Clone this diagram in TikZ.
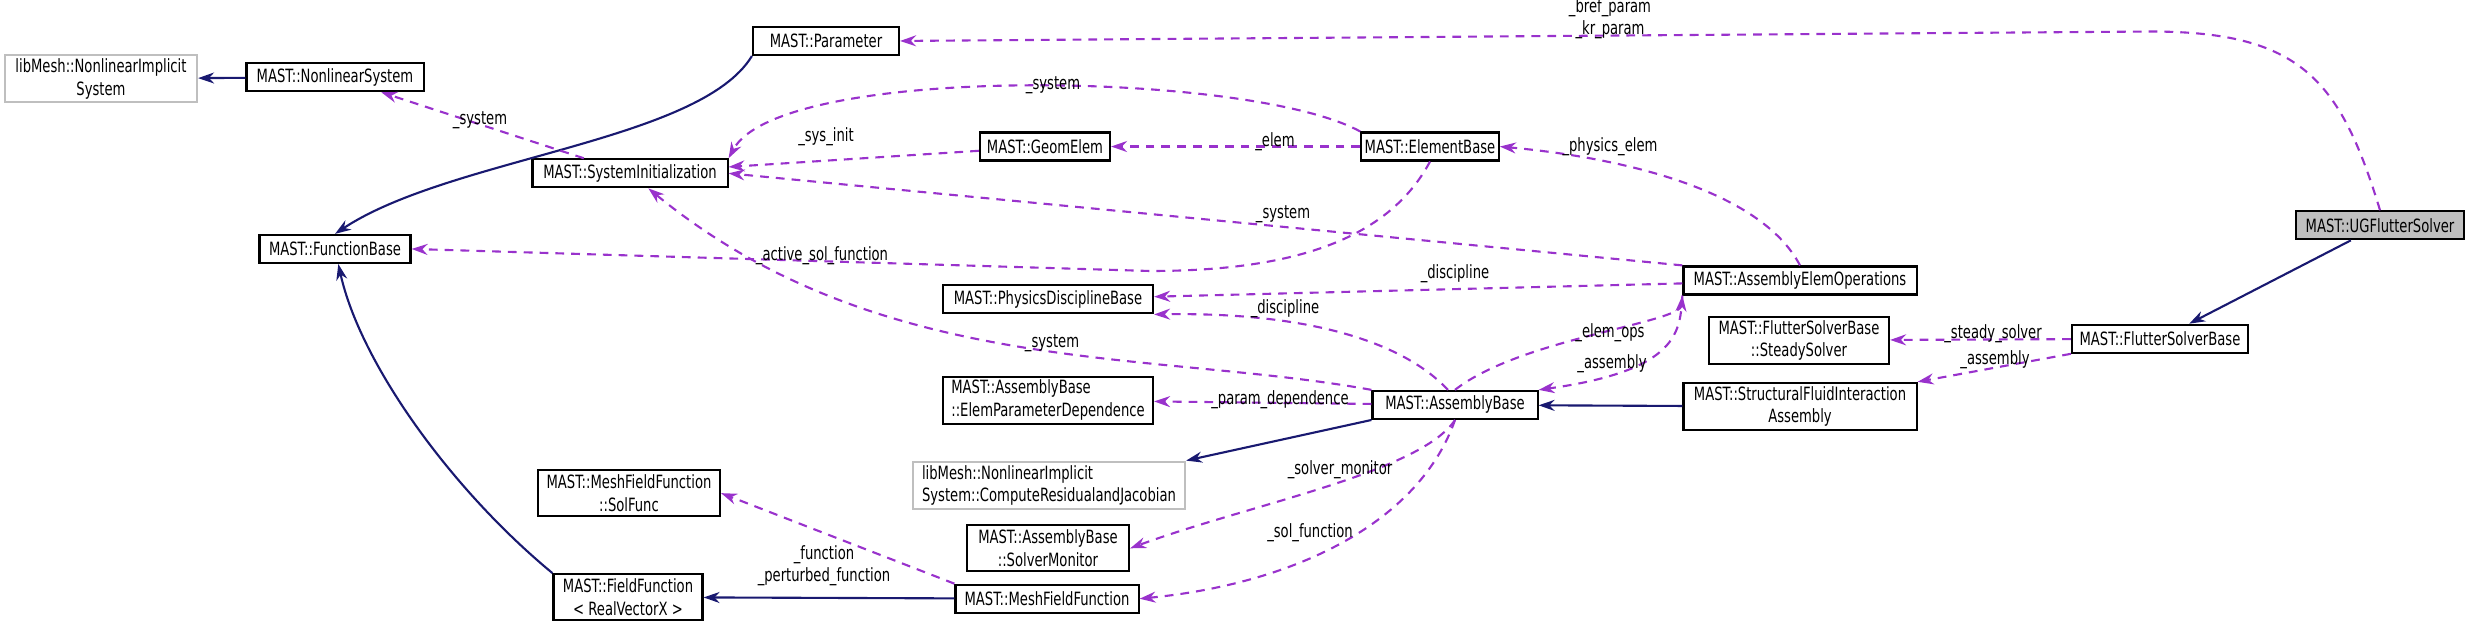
\documentclass[tikz,border=0pt]{standalone}
\usepackage{fontspec}
\setmainfont[FakeStretch=0.8]{DejaVu Sans Condensed}
\usepackage{tikz}
\usetikzlibrary{arrows.meta}
\definecolor{inherit}{RGB}{25,25,112}
\definecolor{usage}{RGB}{153,50,204}
\tikzset{
  cls/.style={rectangle, draw=black, semithick, fill=white, inner sep=1pt, align=center, font=\fontsize{5.2}{6.4}\selectfont},
  ext/.style={cls, draw=black!25},
  isa/.style={draw=inherit, semithick, -{Stealth[length=0.16cm,width=0.11cm]}},
  dep/.style={draw=usage, semithick, dash pattern=on 2.5pt off 2pt, -{Stealth[length=0.16cm,width=0.11cm]}},
  lbl/.style={inner sep=0pt, align=center, font=\fontsize{5.2}{6.4}\selectfont}
}
\begin{document}
\begin{tikzpicture}[x=0.01cm,y=-0.01575cm]
\useasboundingbox (0,0) rectangle (2469,404.4);
% classes
\node (nlis) [ext, minimum width=1.92cm, minimum height=0.46cm] at (101,50) {libMesh::NonlinearImplicit\\System};
\node (nlsys) [cls, minimum width=1.77cm, minimum height=0.28cm] at (335,49) {MAST::NonlinearSystem};
\node (param) [cls, minimum width=1.46cm, minimum height=0.28cm] at (826,26) {MAST::Parameter};
\node (sysinit) [cls, minimum width=1.95cm, minimum height=0.28cm] at (630,110) {MAST::SystemInitialization};
\node (fbase) [cls, minimum width=1.51cm, minimum height=0.28cm] at (335,158) {MAST::FunctionBase};
\node (geom) [cls, minimum width=1.30cm, minimum height=0.28cm] at (1045,93) {MAST::GeomElem};
\node (ebase) [cls, minimum width=1.07cm, minimum height=0.28cm] at (1430,93) {MAST::ElementBase};
\node (pdb) [cls, minimum width=2.10cm, minimum height=0.28cm] at (1048,190) {MAST::PhysicsDisciplineBase};
\node (aeo) [cls, minimum width=2.33cm, minimum height=0.28cm] at (1800,178) {MAST::AssemblyElemOperations};
\node (epd) [cls, minimum width=2.10cm, minimum height=0.46cm, align=left] at (1048,254) {MAST::AssemblyBase\\::ElemParameterDependence};
\node (ab) [cls, minimum width=1.65cm, minimum height=0.28cm] at (1455,257) {MAST::AssemblyBase};
\node (crj) [ext, minimum width=2.72cm, minimum height=0.47cm, align=left] at (1049,308) {libMesh::NonlinearImplicit\\System::ComputeResidualandJacobian};
\node (smon) [cls, minimum width=1.62cm, minimum height=0.46cm] at (1048,348) {MAST::AssemblyBase\\::SolverMonitor};
\node (solf) [cls, minimum width=1.82cm, minimum height=0.46cm] at (629,313) {MAST::MeshFieldFunction\\::SolFunc};
\node (ffun) [cls, minimum width=1.49cm, minimum height=0.46cm] at (628,379) {MAST::FieldFunction\\< RealVectorX >};
\node (mff) [cls, minimum width=1.83cm, minimum height=0.28cm] at (1047,380) {MAST::MeshFieldFunction};
\node (ug) [cls, fill=black!25, minimum width=1.68cm, minimum height=0.28cm] at (2380,143) {MAST::UGFlutterSolver};
\node (fsb) [cls, minimum width=1.76cm, minimum height=0.28cm] at (2160,215) {MAST::FlutterSolverBase};
\node (steady) [cls, minimum width=1.80cm, minimum height=0.47cm] at (1799,216) {MAST::FlutterSolverBase\\::SteadySolver};
\node (sfia) [cls, minimum width=2.33cm, minimum height=0.46cm] at (1800,258) {MAST::StructuralFluidInteraction\\Assembly};

% inheritance
\draw[isa] (nlsys) -- (nlis);
\draw[isa] (param.south west) .. controls (700,90) and (450,100) .. (fbase.north);
\draw[isa] (ffun.north west) .. controls (450,310) and (360,230) .. (fbase);
\draw[isa] (mff) -- (ffun);
\draw[isa] (ab.south west) -- (crj.north east);
\draw[isa] (sfia) -- (ab);
\draw[isa] (ug) -- (fsb);

% usage
\draw[dep] (ug.north) .. controls (2340,50) and (2300,20) .. (2150,20) -- (param.east);
\draw[dep] (sysinit) -- (nlsys);
\draw[dep] (ebase.north west) .. controls (1250,45) and (780,40) .. (sysinit.north east);
\draw[dep] (geom) -- (sysinit);
\draw[dep] (ebase) -- (geom);
\draw[dep] (ebase.south) .. controls (1390,150) and (1300,172) .. (1150,172) -- (fbase.east);
\draw[dep] (aeo.north west) -- (sysinit.east);
\draw[dep] (aeo.north) .. controls (1760,120) and (1620,100) .. (ebase.east);
\draw[dep] (aeo) -- (pdb);
\draw[dep] (ab.115) .. controls (1400,215) and (1300,198) .. (pdb.south east);
\draw[dep] (ab.north west) .. controls (1150,222) and (880,240) .. (sysinit);
\draw[dep] (ab.north) .. controls (1520,215) and (1680,205) .. (aeo.south west);
\draw[dep] (aeo.south west) .. controls (1680,210) and (1680,235) .. (ab.north east);
\draw[dep] (ab) -- (epd);
\draw[dep] (ab.south) .. controls (1420,300) and (1250,320) .. (smon.east);
\draw[dep] (ab.south) .. controls (1420,330) and (1300,370) .. (mff.east);
\draw[dep] (mff.north west) -- (solf.east);
\draw[dep] (fsb) -- (steady);
\draw[dep] (fsb.south west) -- (sfia.north east);

% labels
\node (l1) [lbl] at (1610,12) {\_bref\_param\\\_kr\_param};
\node (l2) [lbl] at (480,76) {\_system};
\node (l3) [lbl] at (1053,54) {\_system};
\node (l4) [lbl] at (826,87) {\_sys\_init};
\node (l5) [lbl] at (1275,90) {\_elem};
\node (l6) [lbl] at (1610,93) {\_physics\_elem};
\node (l7) [lbl] at (1283,136) {\_system};
\node (l8) [lbl] at (822,162) {\_active\_sol\_function};
\node (l9) [lbl] at (1455,174) {\_discipline};
\node (l10) [lbl] at (1285,196) {\_discipline};
\node (l11) [lbl] at (1610,211) {\_elem\_ops};
\node (l12) [lbl] at (1052,218) {\_system};
\node (l13) [lbl] at (1612,231) {\_assembly};
\node (l14) [lbl] at (1280,254) {\_param\_dependence};
\node (l15) [lbl] at (1340,298) {\_solver\_monitor};
\node (l16) [lbl] at (1310,338) {\_sol\_function};
\node (l17) [lbl] at (824,359) {\_function\\\_perturbed\_function};
\node (l18) [lbl] at (1993,212) {\_steady\_solver};
\node (l19) [lbl] at (1995,228) {\_assembly};
\end{tikzpicture}
\end{document}
